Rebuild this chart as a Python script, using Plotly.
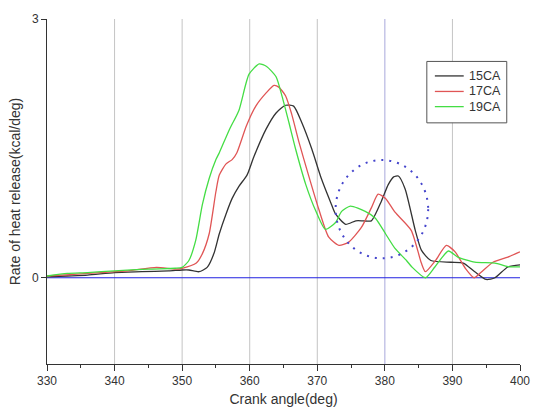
import plotly.graph_objects as go

# Heat release rate vs crank angle for three injection timings
ca_15 = [330, 333, 336, 340, 344, 348, 350, 351, 352.5, 353.7, 354.7, 355.5, 356.5, 357.4, 358.4,
         359.6, 360.6, 362.4, 363.9, 365.3, 366.5, 367.7, 369.2, 370.6, 372.1, 372.7, 374.2, 375.7,
         376.8, 378, 379.5, 380.5, 381.3, 382, 383, 384.5, 385.4, 386.8, 389.8, 391.6, 393.3, 395,
         396.3, 398.2, 400]
hr_15 = [0.01, 0.02, 0.03, 0.06, 0.07, 0.08, 0.09, 0.09, 0.07, 0.12, 0.28, 0.51, 0.74, 0.92, 1.06,
         1.19, 1.40, 1.72, 1.91, 2.0, 1.99, 1.8, 1.49, 1.15, 0.85, 0.74, 0.62, 0.66,
         0.66, 0.66, 0.89, 1.08, 1.17, 1.18, 1.03, 0.55, 0.32, 0.2, 0.18, 0.17, 0.07, -0.02,
         0.0, 0.125, 0.15]

ca_17 = [330, 334, 338, 342, 346.2, 349, 350, 352.1, 353, 354, 355, 355.5, 356.5, 357.4, 358.1,
         359.5, 360.9, 362.4, 363.6, 364.3, 365.3, 366.2, 367.3, 368.7, 370.2, 371.7, 373.2, 374.6,
         376.5, 378, 379, 380.1, 381.5, 383.9, 385.4, 386, 387.5, 389.1, 390.4, 391.9, 393.2, 394.2,
         396, 398.2, 400]
hr_17 = [0.02, 0.04, 0.06, 0.08, 0.12, 0.10, 0.11, 0.17, 0.28, 0.51, 1.0, 1.19, 1.32, 1.37, 1.45,
         1.76, 1.99, 2.14, 2.23, 2.21, 2.11, 1.9, 1.57, 1.19, 0.8, 0.47, 0.375, 0.41,
         0.58, 0.81, 0.97, 0.92, 0.76, 0.55, 0.17, 0.07, 0.2, 0.375, 0.3, 0.11, 0.0, 0.06,
         0.18, 0.24, 0.3]

ca_19 = [330, 333, 336, 340, 345, 349, 350, 351, 352, 353, 354, 355, 355.5, 357, 358.4, 359.9,
         361.4, 362.5, 363.9, 364.8, 365.8, 366.8, 368.3, 369.8, 371.2, 372.7, 373.6, 374.9, 377.1,
         378.6, 380.1, 381.5, 383.2, 384, 386, 387.4, 389.4, 390.8, 393.3, 396.3, 398.2, 400]
hr_19 = [0.02, 0.05, 0.06, 0.08, 0.1, 0.11, 0.12, 0.2, 0.43, 0.85, 1.15, 1.37, 1.45, 1.72, 1.94, 2.36,
         2.48, 2.45, 2.33, 2.1, 1.8, 1.49, 1.08, 0.77, 0.56, 0.64, 0.77, 0.83, 0.77,
         0.69, 0.51, 0.34, 0.2, 0.125, 0.0, 0.125, 0.31, 0.24, 0.18, 0.17, 0.13, 0.125]

series_names = ["15CA", "17CA", "19CA"]
series_colors = ["#333333", "#e05555", "#44dd44"]

grid_angles = [340, 350, 360, 370, 390]
highlight_angle = 380

# Dotted ellipse marking the second combustion peak region (angle, rate)
ring_center = (379.56, 0.795)
ring_radius = (6.85, 0.57)

fig = go.Figure()
for name, ca, hr, col in zip(series_names, [ca_15, ca_17, ca_19], [hr_15, hr_17, hr_19], series_colors):
    fig.add_trace(go.Scatter(x=ca, y=hr, mode="lines", name=name, showlegend=False,
                             line=dict(color=col, width=1.3, shape="spline", smoothing=0.6)))

# vertical guide lines
for a in grid_angles:
    fig.add_shape(type="line", xref="x", yref="paper", x0=a, x1=a, y0=0, y1=1,
                  line=dict(color="#c4c4c4", width=1), layer="below")
fig.add_shape(type="line", xref="x", yref="paper", x0=highlight_angle, x1=highlight_angle, y0=0, y1=1,
              line=dict(color="#a8a8dc", width=1), layer="below")

# baseline at zero
fig.add_shape(type="line", xref="paper", yref="y", x0=0, x1=1, y0=0, y1=0,
              line=dict(color="#2020e0", width=1), layer="below")

fig.add_shape(type="circle", xref="x", yref="y",
              x0=ring_center[0] - ring_radius[0], x1=ring_center[0] + ring_radius[0],
              y0=ring_center[1] - ring_radius[1], y1=ring_center[1] + ring_radius[1],
              line=dict(color="#4444cc", width=2, dash="2px,6px"))

# compact legend box
fig.add_shape(type="rect", xref="paper", yref="paper", x0=0.803, x1=0.972, y0=0.699, y1=0.877,
              line=dict(color="#555555", width=1), fillcolor="white")
row_y = [0.835, 0.790, 0.746]
for name, col, ry in zip(series_names, series_colors, row_y):
    fig.add_shape(type="line", xref="paper", yref="paper", x0=0.820, x1=0.881, y0=ry, y1=ry,
                  line=dict(color=col, width=1.3))
    fig.add_annotation(xref="paper", yref="paper", x=0.887, y=ry, text=name, showarrow=False,
                       xanchor="left", yanchor="middle", font=dict(size=12.5, color="#333333"))

fig.update_layout(
    width=542, height=416,
    margin=dict(l=47, r=18, t=14, b=50),
    paper_bgcolor="white", plot_bgcolor="white",
    font=dict(family="Liberation Sans, Arial, sans-serif", color="#333333", size=12),
    showlegend=False,
    xaxis=dict(range=[330, 400], dtick=10, tick0=330, ticks="outside", ticklen=6,
               tickcolor="#333333", showline=True, linecolor="#333333", linewidth=1,
               showgrid=False, zeroline=False,
               minor=dict(dtick=5, ticks="outside", ticklen=3, tickcolor="#333333"),
               title=dict(text="Crank angle(deg)", font=dict(size=14), standoff=6)),
    yaxis=dict(range=[-1, 3], tickvals=[0, 3], ticks="outside", ticklen=5,
               tickcolor="#333333", showline=True, linecolor="#333333", linewidth=1,
               showgrid=False, zeroline=False,
               title=dict(text="Rate of heat release(kcal/deg)", font=dict(size=14), standoff=8)),
)

fig.write_html("out.html")
